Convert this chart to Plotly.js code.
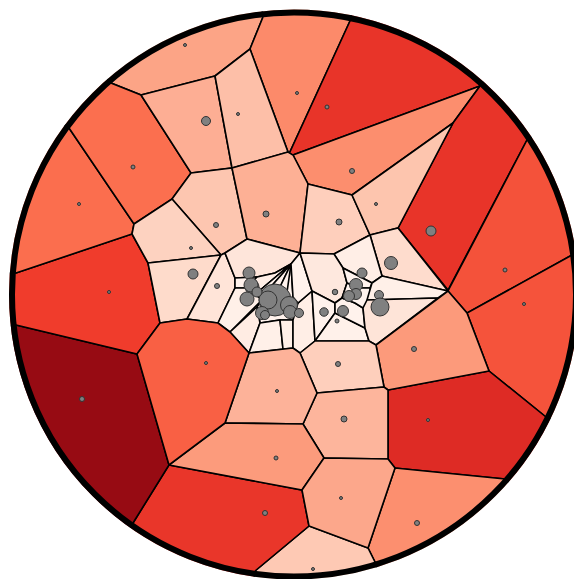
<!DOCTYPE html>
<html><head><meta charset="utf-8">
<script src="https://cdn.plot.ly/plotly-3.0.1.min.js"></script>
<style>html,body{margin:0;padding:0;background:#fff}</style></head>
<body><div id="chart" style="width:574px;height:579px"></div>
<script>
// Rim points and the same points pushed past the ring (the ring mask trims them)
const a=[263,17],a2=[254,-66],b=[350,21],b2=[367,-61],c=[480,86],c2=[536,23],d=[527,140],d2=[597,94],
e=[572,255],e2=[653,243],f=[546,417],f2=[622,454],g=[505,479],g2=[568,534],h=[375,562],h2=[399,642],
i=[255,571],i2=[243,654],j=[133,523],j2=[85,591],k=[16,325],k2=[-67,334],m=[16,273],m2=[-67,267],
n=[69,128],n2=[2,78],o=[111,83],o2=[56,19];

const cellPolygons=[
 [a2,a,[250,49],[215,76],[141,95],o,o2],
 [a,a2,b2,b,[289,154],[288,152],[250,49]],
 [b,b2,c2,c,[293,155],[289,154]],
 [c,[453,123],[352,195],[308,184],[293,155]],
 [c,c2,d2,d,[448,290],[398,228],[453,123]],
 [d,d2,e2,e,[467,313],[448,291]],
 [e,e2,f2,f,[489,371],[467,313]],
 [f,f2,g2,g,[395,468],[388,459],[388,390],[489,371]],
 [g,g2,h2,h,[368,548],[395,468]],
 [h,h2,i2,i,[309,526],[368,548]],
 [i,i2,j2,j,[169,465],[302,490],[309,526]],
 [j,j2,k2,k,[137,354],[169,465]],
 [k,k2,m2,m,[132,234],[148,263],[160,323],[137,354]],
 [m,m2,n2,n,[134,224],[132,234]],
 [n,n2,o2,o,[141,95],[191,173],[172,199],[134,224]],
 [[141,95],[215,76],[232,168],[191,173]],
 [[215,76],[250,49],[288,152],[232,168]],
 [[172,199],[191,173],[232,168],[247,239],[225,253],[221,255]],
 [[232,168],[288,152],[293,155],[308,184],[300,253],[247,239]],
 [[134,224],[172,199],[221,255],[148,263],[132,234]],
 [[308,184],[352,195],[370,235],[334,254],[300,253]],
 [[352,195],[453,123],[398,228],[370,235]],
 [[370,235],[398,228],[448,291],[382,276]],
 [[334,254],[370,235],[382,276],[372,283],[343,268]],
 [[148,263],[221,255],[187,319],[160,323]],
 [[225,253],[235,278],[235,288],[218,323],[187,319],[221,255]],
 [[225,253],[247,239],[300,253],[291,264],[275,273],[257,277],[235,278]],
 [[235,278],[257,277],[247,288],[235,288]],
 [[257,277],[275,273],[291,264],[258,292],[247,288]],
 [[247,288],[258,292],[291,264],[293,297],[297,308],[293,320],[280,320],[260,323],[257,307],[262,300]],
 [[291,264],[258,292],[268,290]],
 [[291,264],[268,290],[280,287]],
 [[291,264],[280,287],[287,292]],
 [[235,288],[247,288],[262,300],[230,332],[218,323]],
 [[230,332],[257,307],[260,323],[249,353]],
 [[260,323],[280,320],[283,349],[249,353]],
 [[280,320],[293,320],[293,348],[283,349]],
 [[293,320],[298,303],[312,291],[315,341],[300,353],[293,348]],
 [[300,253],[312,291],[298,303],[293,297],[291,264]],
 [[300,253],[334,254],[343,268],[347,283],[342,298],[335,303],[312,291]],
 [[312,291],[335,303],[335,313],[315,341]],
 [[335,313],[365,328],[369,341],[315,341]],
 [[335,303],[342,298],[355,303],[363,308],[365,328],[335,313]],
 [[343,268],[372,283],[370,288],[358,288],[347,283]],
 [[347,283],[358,288],[370,288],[370,300],[363,308],[355,303],[342,298]],
 [[372,283],[382,276],[448,291],[438,298],[367,300],[370,288]],
 [[367,300],[438,298],[376,345],[369,341],[365,328],[363,308]],
 [[376,345],[448,291],[467,313],[489,371],[388,390],[384,387]],
 [[300,353],[315,341],[369,341],[376,345],[384,387],[317,393]],
 [[317,393],[384,387],[388,390],[388,459],[324,458],[303,424]],
 [[249,353],[283,349],[293,348],[300,353],[317,393],[303,424],[225,423]],
 [[225,423],[303,424],[324,458],[302,490],[169,465]],
 [[324,458],[388,459],[395,468],[368,548],[309,526],[302,490]],
 [[137,354],[160,323],[187,319],[218,323],[230,332],[249,353],[225,423],[169,465]]
];
const cellColors=[
 '#fca486','#fc8a6a','#e83429','#fc8e6e','#e83429','#f4523a','#f5533b','#de2b25','#fc8f6f','#fec9b4','#e9362a','#970b13','#f03c2c','#fb6e4e','#fb6f4f',
 '#fdae94','#fdbfa8','#fdc6b0','#fdb095','#fdd2c0','#fecfbc','#fdc5ae','#fedccd','#ffeee6','#fedbcb','#ffe4d8','#fee5da','#fff2ec','#ffeee6','#fff2ec','#fff2ec','#fff2ec','#fff2ec','#fff0e8','#ffece3','#fff0e8','#fff0e8','#ffeee6','#fff2ec','#fee8de','#fff2ec','#fff1ea','#fff2ec','#fff3ee','#fff3ee','#fff0e8','#fee4d8','#fc9a7b','#fecfbc','#fdb59c','#fdb299','#fc9b7c','#fca78b','#f96044'
];
const pointX=[185,297,327,206,238,133,79,352,376,266,339,216,191,431,193,249,252,251,247,275,268,262,265,289,290,299,257,391,217,505,524,109,362,356,356,349,335,379,380,324,343,337,82,206,414,338,277,428,344,276,341,265,417,313];
const pointY=[45,93,107,121,114,167,204,171,204,214,222,225,248,231,274,273,287,285,299,300,300,313,315,305,312,313,292,263,286,270,304,292,273,285,294,296,292,295,307,312,311,321,399,363,349,364,391,420,419,458,498,513,523,569];
const pointSize=[3,3,4,9,3,4,3,5,3,6,6,5,3,10,10,12,14,14,14,32,18,13,9,17,13,9,10,13,5,4,3,3,10,13,11,11,5.5,9,18,8.5,11,4,5,3,5,5,3,3,6,4,3,5,5,3];

const traces=cellPolygons.map((p,n)=>{
  const ring=p.concat([p[0]]);
  return {type:'scatter',mode:'lines',x:ring.map(v=>v[0]),y:ring.map(v=>v[1]),
    fill:'toself',fillcolor:cellColors[n],line:{color:'#000',width:1.6},hoverinfo:'skip'};
});
traces.push({type:'scatter',mode:'markers',x:pointX,y:pointY,
  marker:{color:'#808080',opacity:1,size:pointSize,line:{color:'#333',width:1}},hoverinfo:'skip'});

const cx=294,cy=294.5,r=282;
const layout={
  width:574,height:579,margin:{l:0,r:0,t:0,b:0},showlegend:false,
  paper_bgcolor:'#fff',plot_bgcolor:'#fff',
  xaxis:{range:[0,574],visible:false,fixedrange:true},
  yaxis:{range:[579,0],visible:false,fixedrange:true},
  shapes:[
   {type:'circle',xref:'x',yref:'y',x0:cx-r-53,x1:cx+r+53,y0:cy-r-53,y1:cy+r+53,line:{color:'#fff',width:100},fillcolor:'rgba(0,0,0,0)'},
   {type:'circle',xref:'x',yref:'y',x0:cx-r,x1:cx+r,y0:cy-r,y1:cy+r,line:{color:'#000',width:6},fillcolor:'rgba(0,0,0,0)'}
  ]
};
Plotly.newPlot('chart',traces,layout,{staticPlot:true,displayModeBar:false});
</script></body></html>
